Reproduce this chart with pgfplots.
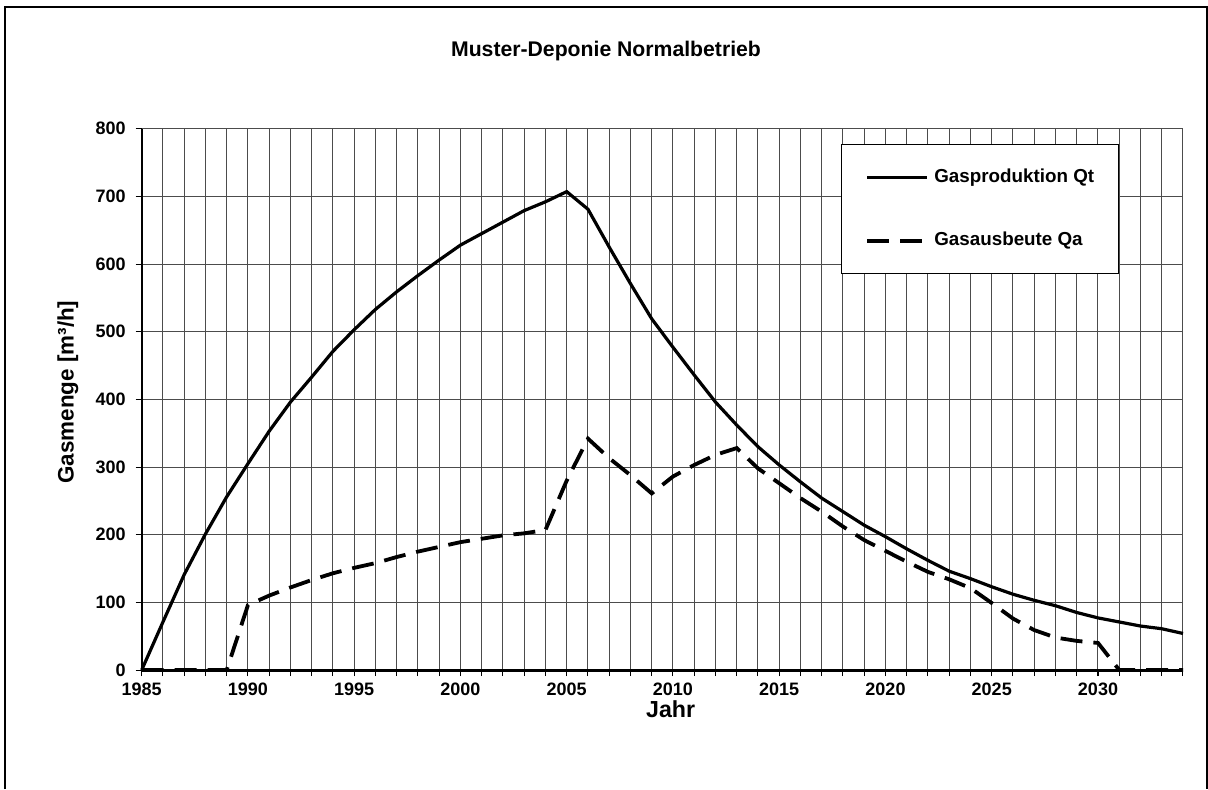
\documentclass[border=0pt]{standalone}
\usepackage{fontspec}
\setmainfont{Liberation Sans}
\usepackage{pgfplots}
\pgfplotsset{compat=1.18}

\begin{document}
\begin{tikzpicture}
\begin{axis}[
  at={(0,0)}, anchor=south west,
  scale only axis,
  width=520.65pt, height=270.65pt,
  xmin=1985, xmax=2034, ymin=0, ymax=800,
  axis x line*=bottom, axis y line*=left,
  every outer x axis line/.append style={-, black, line width=1.5pt},
  every outer y axis line/.append style={-, black, line width=1pt},
  xtick={1985,1990,...,2030},
  minor xtick={1985,...,2034},
  ytick={0,100,...,800},
  tick pos=left,
  tick align=outside,
  major tick length=3pt, minor tick length=3pt,
  xmajorgrids=false, xminorgrids=true, ymajorgrids=true,
  major grid style={black!70, line width=0.5pt},
  minor grid style={black!70, line width=0.5pt},
  every tick/.style={black, line width=0.5pt},
  /pgf/number format/assume math mode=true,
  /pgf/number format/1000 sep={},
  tick label style={font=\fontsize{9}{10}\selectfont\bfseries},
  yticklabel style={xshift=-1.5pt},
  every axis title shift=0pt,
  title={Muster-Deponie Normalbetrieb},
  title style={at={(0.4459,1.1343)}, anchor=base, font=\fontsize{10.6}{12}\selectfont\bfseries},
  xlabel={Jahr},
  xlabel style={at={(0.508,-0.0868)}, anchor=base, font=\fontsize{11.6}{13}\selectfont\bfseries},
  ylabel={Gasmenge [m³/h]},
  ylabel style={at={(-0.0708,0.5136)}, anchor=center, font=\fontsize{11.2}{13}\selectfont\bfseries},
  clip=false,
  legend cell align=left,
  legend image code/.code={\draw[#1] (0pt,0pt) -- (30pt,0pt);},
  legend style={at={(0.6716,0.9717)}, anchor=north west, draw=black, line width=0.5pt, fill=white,
    inner xsep=12pt, inner ysep=12pt, row sep=23pt, column sep=2.5pt,
    font=\fontsize{9.4}{10}\selectfont\bfseries,
    nodes={inner sep=0pt, text height=6.8pt, text depth=2pt}},
]
\addplot[black, line width=1.6pt] coordinates {
(1985,0) (1986,71) (1987,141) (1988,201) (1989,256) (1990,305) (1991,353) (1992,396)
(1993,433) (1994,471) (1995,503) (1996,533) (1997,559) (1998,583) (1999,606) (2000,628)
(2001,645) (2002,662) (2003,679) (2004,692) (2005,707) (2006,681) (2007,625) (2008,571)
(2009,519) (2010,477) (2011,436) (2012,396) (2013,362) (2014,330) (2015,303) (2016,278)
(2017,254) (2018,234) (2019,214) (2020,197) (2021,179) (2022,162) (2023,146) (2024,135)
(2025,123) (2026,112) (2027,103) (2028,95) (2029,85) (2030,77) (2031,71) (2032,65)
(2033,61) (2034,54)
};
\addlegendentry{Gasproduktion Qt}
\addplot[black, line width=1.9pt, dash pattern=on 11pt off 5.5pt] coordinates {
(1985,0) (1986,0) (1987,0) (1988,0) (1989,0) (1990,96) (1991,110) (1992,122)
(1993,133) (1994,143) (1995,151) (1996,158) (1997,167) (1998,175) (1999,182) (2000,189)
(2001,194) (2002,199) (2003,202) (2004,207) (2005,280) (2006,342) (2007,313) (2008,288)
(2009,261) (2010,286) (2011,303) (2012,318) (2013,328) (2014,298) (2015,276) (2016,254)
(2017,234) (2018,212) (2019,192) (2020,176) (2021,160) (2022,145) (2023,134) (2024,121)
(2025,99) (2026,76) (2027,59) (2028,48) (2029,43) (2030,40) (2031,0) (2032,0)
(2033,0) (2034,0)
};
\addlegendentry{Gasausbeute Qa}
\end{axis}
\draw[black, line width=0.75pt] (-68.35pt,-59.5pt) -- (-68.35pt,331.5pt) -- (532.65pt,331.5pt) -- (532.65pt,-59.5pt);
\pgfresetboundingbox
\path[use as bounding box] (-70.85pt,-59.5pt) rectangle (533.15pt,335pt);
\end{tikzpicture}
\end{document}
